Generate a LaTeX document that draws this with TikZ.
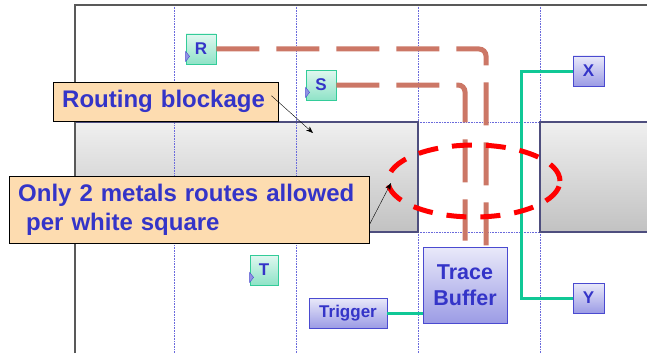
\documentclass[tikz,border=0pt]{standalone}
\usepackage{fontspec}
\setmainfont{Liberation Sans}
\usepackage{tikz}
\usetikzlibrary{arrows.meta,calc,positioning}
\usepackage{xcolor}
\definecolor{ink}{HTML}{3434C8}
\definecolor{route}{HTML}{CC7766}
\definecolor{wire}{HTML}{10C896}
\definecolor{note}{HTML}{FDDCB0}
\definecolor{grid}{HTML}{6A6ADC}
\definecolor{edge}{HTML}{4A4AD0}
\definecolor{mint}{HTML}{33CC99}
\definecolor{slab}{HTML}{4E4E7E}
\tikzset{
  ffbox/.style={draw=mint, thick, top color=mint!15, bottom color=mint!55, text=ink, font=\fontsize{17}{20}\bfseries, minimum size=30pt, inner sep=0pt},
  portbox/.style={draw=edge, thick, top color=edge!12, bottom color=edge!55, text=ink, font=\fontsize{17}{20}\bfseries, minimum height=30pt, inner sep=0pt},
  notebox/.style={draw=black, fill=note, text=ink, font=\fontsize{24}{29}\selectfont\bfseries, align=left, inner xsep=9pt, inner ysep=0pt, anchor=north west},
  blockage/.style={top color=black!6, bottom color=black!24},
  dashroute/.style={route, line width=5pt, dash pattern=on 43pt off 17pt, rounded corners=7pt},
  greenwire/.style={wire, line width=3pt},
  halo/.style={red, line width=5pt, dash pattern=on 20pt off 14pt},
  gridline/.style={grid, line width=0.6pt, densely dotted}
}
\begin{document}
\begin{tikzpicture}[x=1pt, y=-1pt, >={Stealth[length=7pt]}]
  \clip (0,0) rectangle (647,353);
  \fill[white] (0,0) rectangle (647,353);
  \fill[blockage] (75,122) rectangle (418,232);
  \fill[blockage] (540,122) rectangle (670,232);
  \foreach \x in {174,296,418,540} { \draw[gridline] (\x,5) -- (\x,353); }
  \foreach \y in {122,232} { \draw[gridline] (418,\y) -- (540,\y); }
  \draw[slab, line width=1.2pt] (75,122) rectangle (418,232) (540,122) rectangle (670,232);
  \draw[black!65, line width=2pt] (75,353) -- (75,5) -- (647,5);
  \node[ffbox] (R) at (201,49) {R};
  \node[ffbox] (S) at (321,85) {S};
  \node[ffbox, minimum width=28pt] (T) at (264,270) {T};
  \foreach \f in {R,S,T} {
    \filldraw[fill=edge!60, draw=edge, thin] ([shift={(0,-3)}]\f.south west) -- ([shift={(4,-8)}]\f.south west) -- ([shift={(0,-13)}]\f.south west) -- cycle;
  }
  \node[portbox, minimum width=84pt, minimum height=76pt, font=\fontsize{21.5}{26}\bfseries, align=center] (tb) at (465,285) {Trace\\Buffer};
  \node[portbox, minimum width=78pt] (trig) at (348,313) {Trigger};
  \node[portbox, minimum width=31pt] (X) at (588.5,71) {X};
  \node[portbox, minimum width=31pt] (Y) at (588.5,298) {Y};
  \draw[dashroute] (R.east) -| ([xshift=21pt]tb.north);
  \draw[dashroute, shorten >=6pt] (S.east) -| (tb.north);
  \draw[greenwire] (X.west) -| ([xshift=-51pt]Y.west) -- (Y.west);
  \draw[greenwire] (trig.east) -- (trig.east -| tb.west);
  \coordinate (gap) at (474,181);
  \draw[halo] (gap) ellipse [x radius=86pt, y radius=36pt];
  \node[notebox, text width=207pt, minimum height=39pt] (blk) at (53,82) {Routing blockage};
  \node[notebox, text width=342pt, minimum height=67pt] (only) at (9,176) {Only 2 metals routes allowed\\\ per white square};
  \draw[->, thin] ([shift={(-7,-6)}]blk.east) -- (313,133);
  \draw[->, thin] ([yshift=-15pt]only.east) -- (391,183);
\end{tikzpicture}
\end{document}
